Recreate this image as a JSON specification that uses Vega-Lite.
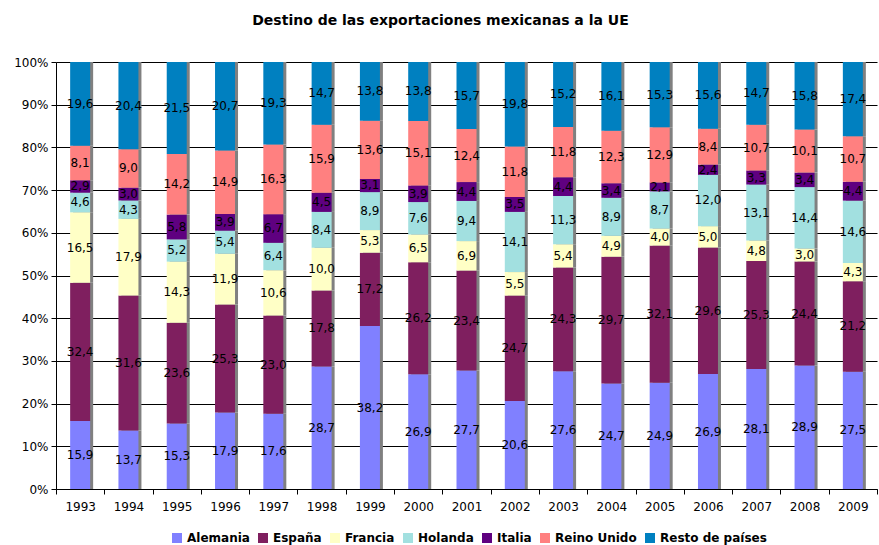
{
  "$schema": "https://vega.github.io/schema/vega-lite/v6.json",
  "width": 821,
  "height": 427,
  "autosize": "none",
  "padding": {"left": 56, "top": 62, "right": 2, "bottom": 56},
  "background": "white",
  "title": {"text": "Destino de las exportaciones mexicanas a la UE", "font": "DejaVu Sans", "fontSize": 14, "fontWeight": "bold", "color": "black", "offset": 28, "dx": -26},
  "data": {"values": [
    {"anio":"1993","pais":"Alemania","valor":15.9},{"anio":"1993","pais":"España","valor":32.4},{"anio":"1993","pais":"Francia","valor":16.5},{"anio":"1993","pais":"Holanda","valor":4.6},{"anio":"1993","pais":"Italia","valor":2.9},{"anio":"1993","pais":"Reino Unido","valor":8.1},{"anio":"1993","pais":"Resto de países","valor":19.6},
    {"anio":"1994","pais":"Alemania","valor":13.7},{"anio":"1994","pais":"España","valor":31.6},{"anio":"1994","pais":"Francia","valor":17.9},{"anio":"1994","pais":"Holanda","valor":4.3},{"anio":"1994","pais":"Italia","valor":3.0},{"anio":"1994","pais":"Reino Unido","valor":9.0},{"anio":"1994","pais":"Resto de países","valor":20.4},
    {"anio":"1995","pais":"Alemania","valor":15.3},{"anio":"1995","pais":"España","valor":23.6},{"anio":"1995","pais":"Francia","valor":14.3},{"anio":"1995","pais":"Holanda","valor":5.2},{"anio":"1995","pais":"Italia","valor":5.8},{"anio":"1995","pais":"Reino Unido","valor":14.2},{"anio":"1995","pais":"Resto de países","valor":21.5},
    {"anio":"1996","pais":"Alemania","valor":17.9},{"anio":"1996","pais":"España","valor":25.3},{"anio":"1996","pais":"Francia","valor":11.9},{"anio":"1996","pais":"Holanda","valor":5.4},{"anio":"1996","pais":"Italia","valor":3.9},{"anio":"1996","pais":"Reino Unido","valor":14.9},{"anio":"1996","pais":"Resto de países","valor":20.7},
    {"anio":"1997","pais":"Alemania","valor":17.6},{"anio":"1997","pais":"España","valor":23.0},{"anio":"1997","pais":"Francia","valor":10.6},{"anio":"1997","pais":"Holanda","valor":6.4},{"anio":"1997","pais":"Italia","valor":6.7},{"anio":"1997","pais":"Reino Unido","valor":16.3},{"anio":"1997","pais":"Resto de países","valor":19.3},
    {"anio":"1998","pais":"Alemania","valor":28.7},{"anio":"1998","pais":"España","valor":17.8},{"anio":"1998","pais":"Francia","valor":10.0},{"anio":"1998","pais":"Holanda","valor":8.4},{"anio":"1998","pais":"Italia","valor":4.5},{"anio":"1998","pais":"Reino Unido","valor":15.9},{"anio":"1998","pais":"Resto de países","valor":14.7},
    {"anio":"1999","pais":"Alemania","valor":38.2},{"anio":"1999","pais":"España","valor":17.2},{"anio":"1999","pais":"Francia","valor":5.3},{"anio":"1999","pais":"Holanda","valor":8.9},{"anio":"1999","pais":"Italia","valor":3.1},{"anio":"1999","pais":"Reino Unido","valor":13.6},{"anio":"1999","pais":"Resto de países","valor":13.8},
    {"anio":"2000","pais":"Alemania","valor":26.9},{"anio":"2000","pais":"España","valor":26.2},{"anio":"2000","pais":"Francia","valor":6.5},{"anio":"2000","pais":"Holanda","valor":7.6},{"anio":"2000","pais":"Italia","valor":3.9},{"anio":"2000","pais":"Reino Unido","valor":15.1},{"anio":"2000","pais":"Resto de países","valor":13.8},
    {"anio":"2001","pais":"Alemania","valor":27.7},{"anio":"2001","pais":"España","valor":23.4},{"anio":"2001","pais":"Francia","valor":6.9},{"anio":"2001","pais":"Holanda","valor":9.4},{"anio":"2001","pais":"Italia","valor":4.4},{"anio":"2001","pais":"Reino Unido","valor":12.4},{"anio":"2001","pais":"Resto de países","valor":15.7},
    {"anio":"2002","pais":"Alemania","valor":20.6},{"anio":"2002","pais":"España","valor":24.7},{"anio":"2002","pais":"Francia","valor":5.5},{"anio":"2002","pais":"Holanda","valor":14.1},{"anio":"2002","pais":"Italia","valor":3.5},{"anio":"2002","pais":"Reino Unido","valor":11.8},{"anio":"2002","pais":"Resto de países","valor":19.8},
    {"anio":"2003","pais":"Alemania","valor":27.6},{"anio":"2003","pais":"España","valor":24.3},{"anio":"2003","pais":"Francia","valor":5.4},{"anio":"2003","pais":"Holanda","valor":11.3},{"anio":"2003","pais":"Italia","valor":4.4},{"anio":"2003","pais":"Reino Unido","valor":11.8},{"anio":"2003","pais":"Resto de países","valor":15.2},
    {"anio":"2004","pais":"Alemania","valor":24.7},{"anio":"2004","pais":"España","valor":29.7},{"anio":"2004","pais":"Francia","valor":4.9},{"anio":"2004","pais":"Holanda","valor":8.9},{"anio":"2004","pais":"Italia","valor":3.4},{"anio":"2004","pais":"Reino Unido","valor":12.3},{"anio":"2004","pais":"Resto de países","valor":16.1},
    {"anio":"2005","pais":"Alemania","valor":24.9},{"anio":"2005","pais":"España","valor":32.1},{"anio":"2005","pais":"Francia","valor":4.0},{"anio":"2005","pais":"Holanda","valor":8.7},{"anio":"2005","pais":"Italia","valor":2.1},{"anio":"2005","pais":"Reino Unido","valor":12.9},{"anio":"2005","pais":"Resto de países","valor":15.3},
    {"anio":"2006","pais":"Alemania","valor":26.9},{"anio":"2006","pais":"España","valor":29.6},{"anio":"2006","pais":"Francia","valor":5.0},{"anio":"2006","pais":"Holanda","valor":12.0},{"anio":"2006","pais":"Italia","valor":2.4},{"anio":"2006","pais":"Reino Unido","valor":8.4},{"anio":"2006","pais":"Resto de países","valor":15.6},
    {"anio":"2007","pais":"Alemania","valor":28.1},{"anio":"2007","pais":"España","valor":25.3},{"anio":"2007","pais":"Francia","valor":4.8},{"anio":"2007","pais":"Holanda","valor":13.1},{"anio":"2007","pais":"Italia","valor":3.3},{"anio":"2007","pais":"Reino Unido","valor":10.7},{"anio":"2007","pais":"Resto de países","valor":14.7},
    {"anio":"2008","pais":"Alemania","valor":28.9},{"anio":"2008","pais":"España","valor":24.4},{"anio":"2008","pais":"Francia","valor":3.0},{"anio":"2008","pais":"Holanda","valor":14.4},{"anio":"2008","pais":"Italia","valor":3.4},{"anio":"2008","pais":"Reino Unido","valor":10.1},{"anio":"2008","pais":"Resto de países","valor":15.8},
    {"anio":"2009","pais":"Alemania","valor":27.5},{"anio":"2009","pais":"España","valor":21.2},{"anio":"2009","pais":"Francia","valor":4.3},{"anio":"2009","pais":"Holanda","valor":14.6},{"anio":"2009","pais":"Italia","valor":4.4},{"anio":"2009","pais":"Reino Unido","valor":10.7},{"anio":"2009","pais":"Resto de países","valor":17.4}
  ]},
  "encoding": {
    "x": {"field": "anio", "type": "ordinal", "title": null,
      "scale": {"paddingInner": 0, "paddingOuter": 0},
      "axis": {"labelAngle": 0, "tickBand": "extent", "domainColor": "black", "tickColor": "black", "tickSize": 5, "labelFont": "DejaVu Sans", "labelFontSize": 12, "labelColor": "black", "labelPadding": 7, "grid": false}},
    "order": {"field": "pais", "sort": "ascending"}
  },
  "layer": [
    {
      "mark": {"type": "bar", "width": 20, "xOffset": 3, "fill": "#808080", "strokeWidth": 0},
      "encoding": {
        "y": {"field": "valor", "type": "quantitative", "stack": "normalize", "title": null,
          "axis": {"values": [0,0.1,0.2,0.3,0.4,0.5,0.6,0.7,0.8,0.9,1], "format": "0%", "grid": true, "gridColor": "black", "gridOpacity": 1, "domainColor": "black", "tickColor": "black", "tickSize": 5, "labelFont": "DejaVu Sans", "labelFontSize": 12, "labelColor": "black", "labelPadding": 3}},
        "detail": {"field": "pais"}
      }
    },
    {
      "mark": {"type": "bar", "width": 20},
      "encoding": {
        "y": {"field": "valor", "type": "quantitative", "stack": "normalize"},
        "color": {"field": "pais", "type": "nominal", "title": null,
          "scale": {"domain": ["Alemania","España","Francia","Holanda","Italia","Reino Unido","Resto de países"],
                    "range": ["#8080FF","#7F1F5F","#FFFFC6","#A2E0E0","#5F0080","#FF8080","#0080C0"]},
          "legend": {"orient": "none", "legendX": 115, "legendY": 470, "direction": "horizontal", "symbolType": "square", "symbolSize": 100, "symbolStrokeWidth": 0, "labelFont": "DejaVu Sans", "labelFontSize": 12, "labelFontWeight": "bold", "labelColor": "black", "columnPadding": 7, "labelOffset": 4}}
      }
    },
    {
      "mark": {"type": "text", "font": "DejaVu Sans", "fontSize": 12, "color": "black", "baseline": "middle"},
      "encoding": {
        "y": {"field": "valor", "type": "quantitative", "stack": "normalize", "bandPosition": 0.5},
        "detail": {"field": "pais"},
        "text": {"field": "valor", "type": "quantitative", "format": ".1f"}
      }
    }
  ],
  "config": {
    "view": {"stroke": null},
    "locale": {"number": {"decimal": ",", "thousands": ".", "grouping": [3], "currency": ["", " €"]}}
  }
}
